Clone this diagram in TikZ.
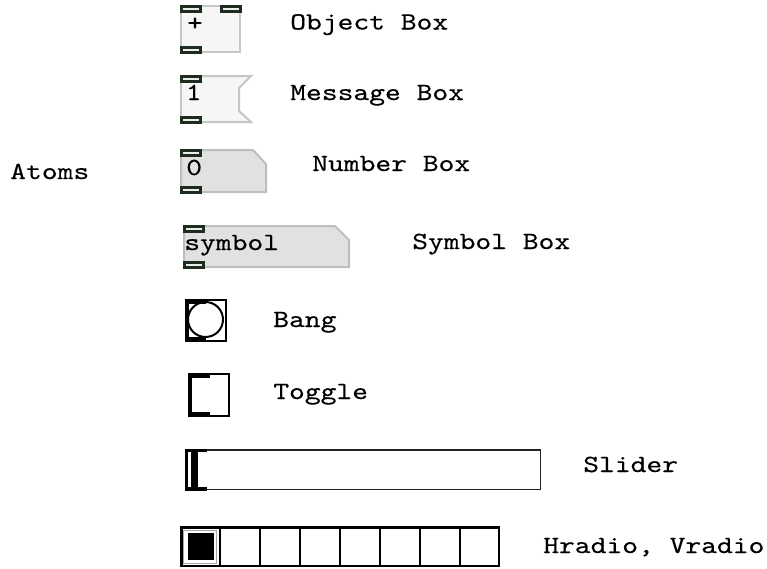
\documentclass[tikz,border=0pt]{standalone}
\usepackage{fontspec}
\setmonofont{lmmono10-regular.otf}[FakeStretch=1.22,FakeBold=0.3]
\definecolor{objfill}{HTML}{F5F6F5}
\definecolor{objborder}{HTML}{C6C6C6}
\definecolor{numfill}{HTML}{E1E1E1}
\definecolor{numborder}{HTML}{BEBEBE}
\definecolor{inletdark}{HTML}{1E2B1F}
\definecolor{inletlight}{HTML}{E9EEE9}
\definecolor{sliderborder}{HTML}{222222}
\tikzset{
  lbl/.style={font=\ttfamily\fontsize{18.5pt}{20pt}\selectfont, anchor=base west, inner sep=0pt, text=black},
  litebox/.style={fill=objfill, draw=objborder, line width=1.5pt, line join=miter},
  greybox/.style={fill=numfill, draw=numborder, line width=1.5pt, line join=miter},
  inletst/.style={fill=inletlight, draw=inletdark, line width=2pt},
  inl/.pic={\draw[inletst] (1.3,1.3) rectangle (20.7,6.2);},
  guiframe/.style={draw=black, line width=1.5pt, fill=white},
}
\begin{document}
\begin{tikzpicture}[x=0.75pt,y=-0.75pt]
\useasboundingbox (0,0) rectangle (767,568);

% Object box
\draw[litebox] (181,6) rectangle (240,52);
\pic at (180,5) {inl};
\pic at (220,5) {inl};
\pic at (180,46) {inl};
\node[lbl, anchor=center] (objtxt) at (195,24) {+};
\node[lbl] (objlbl) at (290,29.5) {Object Box};

% Message box
\draw[litebox] (181,76) -- (251,76) -- (239,88) -- (239,111) -- (251,122) -- (181,122) -- cycle;
\pic at (180,75) {inl};
\pic at (180,116) {inl};
\node[lbl] (msgtxt) at (185.5,100) {1};
\node[lbl] (msglbl) at (290,100) {Message Box};

% Atoms
\node[lbl] (atoms) at (10,179) {Atoms};

% Number box
\draw[greybox] (181,150) -- (253,150) -- (266,164) -- (266,192) -- (181,192) -- cycle;
\pic at (180,149) {inl};
\pic at (180,186) {inl};
\node[lbl] (numtxt) at (186,175) {0};
\node[lbl] (numlbl) at (312,171) {Number Box};

% Symbol box
\draw[greybox] (184,226) -- (335,226) -- (349,240) -- (349,267) -- (184,267) -- cycle;
\pic at (183,225) {inl};
\pic at (183,261) {inl};
\node[lbl] (symtxt) at (184,250) {symbol};
\node[lbl] (symlbl) at (412,249) {Symbol Box};

% Bang
\draw[guiframe] (186,300) rectangle (226,341);
\fill[black] (185,299) rectangle (206,304);
\fill[black] (185,337) rectangle (206,342);
\fill[black] (185,299) rectangle (188.5,342);
\draw[black, line width=1.5pt] (205.5,319.5) circle[radius=17.5];
\node[lbl] (banglbl) at (273,327) {Bang};

% Toggle
\draw[guiframe] (189,374) rectangle (229,416);
\fill[black] (188,373) rectangle (210,378);
\fill[black] (188,412) rectangle (210,417);
\fill[black] (188,373) rectangle (191.5,417);
\node[lbl] (toglbl) at (273,399) {Toggle};

% Slider
\draw[draw=sliderborder, line width=1.1pt, fill=white] (185.7,450) rectangle (540.3,489.3);
\fill[black] (185,448.5) rectangle (207,452);
\fill[black] (185,487) rectangle (207,491);
\fill[black] (185,448.5) rectangle (188.3,491);
\fill[black] (191,452) rectangle (197.7,487);
\node[lbl] (sliderlbl) at (583,472) {Slider};

% Radio
\draw[black, line width=2.2pt, fill=white] (181.5,527.5) rectangle (499,566);
\foreach \cx in {220,260,...,460} {
  \draw[black, line width=1.5pt] (\cx,527.5) -- (\cx,566);
}
\draw[gray!70, line width=0.5pt] (183.8,530) rectangle (216,563.5);
\fill[black] (188,533) rectangle (214,560);
\node[lbl] (radiolbl) at (543,553) {Hradio, Vradio};
\end{tikzpicture}
\end{document}
